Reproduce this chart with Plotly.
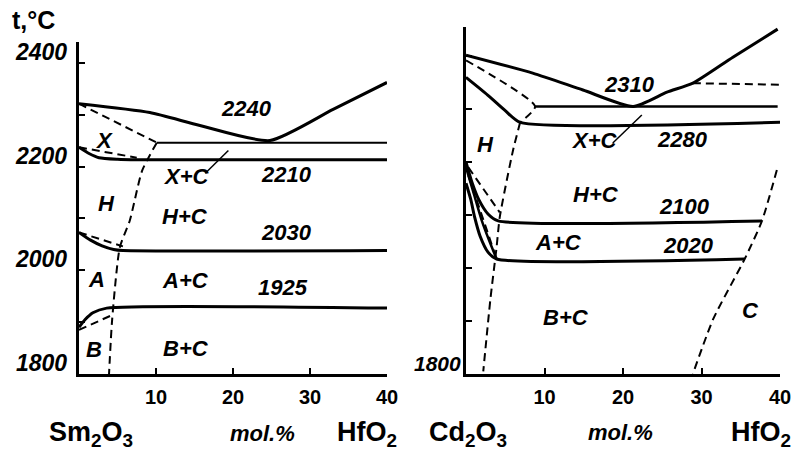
import plotly.graph_objects as go

# ---------------- DATA ----------------
# Left panel: Sm2O3 - HfO2 (x: mol.% HfO2, y: t, °C)
sm_liq_x = [0, 9.2, 15.7, 24.8, 33, 40]
sm_liq_t = [2321, 2304, 2279, 2250, 2310, 2362]
sm_eut_x = [10.1, 40]
sm_eut_t = [2246, 2246]
sm_x_x = [0, 1.3, 2.6, 5, 7.5, 40]
sm_x_t = [2237, 2225, 2217, 2214, 2213, 2213]
sm_h_x = [0, 1.5, 3, 4.5, 5.7, 40]
sm_h_t = [2073, 2058, 2047, 2040, 2038, 2038]
sm_a_x = [0, 0.8, 1.8, 3.6, 40]
sm_a_t = [1890, 1905, 1918, 1927, 1927]
sm_d1_x = [0, 10.1]
sm_d1_t = [2321, 2246]
sm_d2_x = [0, 7.5]
sm_d2_t = [2237, 2217]
sm_solv_x = [10.1, 8.2, 6.6, 5.3, 4.3, 3.9]
sm_solv_t = [2246, 2192, 2096, 2044, 1904, 1800]
sm_d3_x = [0, 5.7]
sm_d3_t = [2073, 2046]
sm_d4_x = [0, 4.5]
sm_d4_t = [1885, 1915]
sm_ptr_x = [16.4, 19.4]
sm_ptr_t = [2187, 2231]

# Right panel: Gd2O3 - HfO2
gd_liq_x = [0, 8.5, 14.9, 21.3, 25.6, 28.9, 34, 39.7]
gd_liq_t = [2402, 2368, 2336, 2305, 2332, 2349, 2398, 2451]
gd_liqd_x = [28.9, 40]
gd_liqd_t = [2349, 2346]
gd_eut_x = [8.8, 39.7]
gd_eut_t = [2305, 2305]
gd_x_x = [0, 1.5, 2.8, 5, 6.9, 40]
gd_x_t = [2360, 2342, 2326, 2297, 2275, 2275]
gd_h_x = [0, 0.8, 1.6, 2.8, 4.1, 37.7]
gd_h_t = [2200, 2160, 2130, 2102, 2089, 2089]
gd_a_x = [0, 0.6, 1.1, 1.8, 2.8, 3.9, 35.5]
gd_a_t = [2160, 2130, 2096, 2060, 2030, 2017, 2017]
gd_a2_x = [0, 1.0, 2.0, 3.0, 3.9]
gd_a2_t = [2190, 2140, 2090, 2050, 2017]
gd_d1_x = [0, 8.8, 6.9]
gd_d1_t = [2392, 2305, 2275]
gd_solv_x = [6.9, 6.0, 4.3, 3.9, 3.1, 2.2]
gd_solv_t = [2275, 2223, 2096, 2040, 1940, 1805]
gd_d2_x = [0.3, 4.3]
gd_d2_t = [2190, 2105]
gd_d3_x = [0.3, 3.6]
gd_d3_t = [2175, 2030]
gd_c_x = [39.6, 37.7, 35.5, 31.5, 28.9]
gd_c_t = [2185, 2089, 2017, 1904, 1800]
gd_ptr_x = [18.7, 22.4]
gd_ptr_t = [2236, 2289]

# Tick values / labels
x_tick_vals = [10, 20, 30, 40]
x_tick_text = ["10", "20", "30", "40"]
y_tick_vals = [1900, 2000, 2100, 2200, 2300, 2400]
left_ylabel_vals = [1800, 2000, 2200, 2400]
right_ylabel_vals = [1800]

# Region labels: (text, x, t)
sm_labels = [("2240", 21.8, 2312), ("X", 3.3, 2250), ("X+C", 14.0, 2181),
             ("2210", 27.0, 2185), ("H", 3.6, 2129), ("H+C", 13.8, 2104),
             ("2030", 26.9, 2073), ("A", 2.3, 1983), ("A+C", 13.8, 1981),
             ("1925", 26.5, 1967), ("B", 2.0, 1848), ("B+C", 13.9, 1850)]
gd_labels = [("2310", 20.8, 2347), ("X+C", 16.4, 2240), ("2280", 27.6, 2243),
             ("H", 2.5, 2234), ("H+C", 16.6, 2138), ("2100", 27.8, 2117),
             ("A+C", 11.8, 2049), ("2020", 28.3, 2043), ("B+C", 12.7, 1906),
             ("C", 36.2, 1919)]

# ---------------- FIGURE ----------------
W, H = 800, 451
FONT = "Liberation Sans"
fig = go.Figure()


def line(x, y, ax, width=3, dash=None):
    xa, ya = ("x", "y") if ax == 1 else ("x2", "y2")
    fig.add_trace(go.Scatter(x=x, y=y, xaxis=xa, yaxis=ya, mode="lines",
                             line=dict(color="black", width=width,
                                       dash=dash or "solid", shape="spline",
                                       smoothing=0.6),
                             hoverinfo="skip", showlegend=False))


DASH = "8px,5px"
# left
line(sm_liq_x, sm_liq_t, 1, 3)
line(sm_eut_x, sm_eut_t, 1, 2)
line(sm_x_x, sm_x_t, 1, 3)
line(sm_h_x, sm_h_t, 1, 3)
line(sm_a_x, sm_a_t, 1, 3)
line(sm_d1_x, sm_d1_t, 1, 2, DASH)
line(sm_d2_x, sm_d2_t, 1, 2, DASH)
line(sm_solv_x, sm_solv_t, 1, 2, DASH)
line(sm_d3_x, sm_d3_t, 1, 2, DASH)
line(sm_d4_x, sm_d4_t, 1, 2, DASH)
line(sm_ptr_x, sm_ptr_t, 1, 1.5)
# right
line(gd_liq_x, gd_liq_t, 2, 3)
line(gd_liqd_x, gd_liqd_t, 2, 2, DASH)
line(gd_eut_x, gd_eut_t, 2, 2.5)
line(gd_x_x, gd_x_t, 2, 3)
line(gd_h_x, gd_h_t, 2, 3)
line(gd_a_x, gd_a_t, 2, 3)
line(gd_a2_x, gd_a2_t, 2, 2.5)
line(gd_d1_x, gd_d1_t, 2, 2, DASH)
line(gd_solv_x, gd_solv_t, 2, 2, DASH)
line(gd_d2_x, gd_d2_t, 2, 2, DASH)
line(gd_d3_x, gd_d3_t, 2, 2, DASH)
line(gd_c_x, gd_c_t, 2, 2, DASH)
line(gd_ptr_x, gd_ptr_t, 2, 1.5)

lab_font = dict(family=FONT, size=22, color="black", style="italic", weight="bold")
ann = []
for t, x, y in sm_labels:
    ann.append(dict(text=t, x=x, y=y, xref="x", yref="y", showarrow=False, font=lab_font))
for t, x, y in gd_labels:
    ann.append(dict(text=t, x=x, y=y, xref="x2", yref="y2", showarrow=False, font=lab_font))

tick_font = dict(family=FONT, size=23, color="black", style="italic", weight="bold")
for v in left_ylabel_vals:
    ann.append(dict(text=str(v), x=69 / W, y=v, xref="paper", yref="y", xanchor="right",
                    yanchor="middle", yshift=11, showarrow=False, font=tick_font))
for v in right_ylabel_vals:
    ann.append(dict(text=str(v), x=463 / W, y=v, xref="paper", yref="y2", xanchor="right",
                    yanchor="middle", yshift=11, showarrow=False,
                    font=dict(family=FONT, size=21, color="black", style="italic", weight="bold")))

big = dict(family=FONT, size=27, color="black", weight="bold")
ital = dict(family=FONT, size=22, color="black", style="italic", weight="bold")
outer = [("t,°C", 33, 20, dict(big, size=25)),
         ("Sm<sub>2</sub>O<sub>3</sub>", 91, 434, big),
         ("mol.%", 262, 433, ital),
         ("HfO<sub>2</sub>", 367, 434, big),
         ("Cd<sub>2</sub>O<sub>3</sub>", 468, 434, big),
         ("mol.%", 620, 432, ital),
         ("HfO<sub>2</sub>", 761, 434, big)]
for t, px, py, f in outer:
    ann.append(dict(text=t, x=px / W, y=1 - py / H, xref="paper", yref="paper",
                    xanchor="center", yanchor="middle", showarrow=False, font=f))

axis_common = dict(showgrid=False, zeroline=False, showline=True, linecolor="black",
                   linewidth=3, ticks="inside", ticklen=6, tickwidth=2, tickcolor="black")
xtick_font = dict(family=FONT, size=20, color="black", weight="bold")

fig.update_layout(
    width=W, height=H, margin=dict(l=0, r=0, t=0, b=0, autoexpand=False),
    plot_bgcolor="white", paper_bgcolor="white", annotations=ann,
    xaxis=dict(axis_common, domain=[79 / W, 387 / W], range=[0, 40], anchor="y",
               tickvals=x_tick_vals, ticktext=x_tick_text, ticklabelstandoff=3,
               tickfont=xtick_font),
    yaxis=dict(axis_common, domain=[1 - 374 / H, 1 - 42 / H], range=[1800, 2440], anchor="x",
               tickvals=y_tick_vals, showticklabels=False),
    xaxis2=dict(axis_common, domain=[466 / W, 780 / W], range=[0, 40], anchor="y2",
                tickvals=x_tick_vals, ticktext=x_tick_text, ticklabelstandoff=3,
                tickfont=xtick_font),
    yaxis2=dict(axis_common, domain=[1 - 374 / H, 1 - 27 / H], range=[1800, 2455], anchor="x2",
                tickvals=y_tick_vals, showticklabels=False),
)

fig.write_html("out.html", config={"displayModeBar": False},
               post_script="document.body.style.margin='0';document.body.style.overflow='hidden';")
